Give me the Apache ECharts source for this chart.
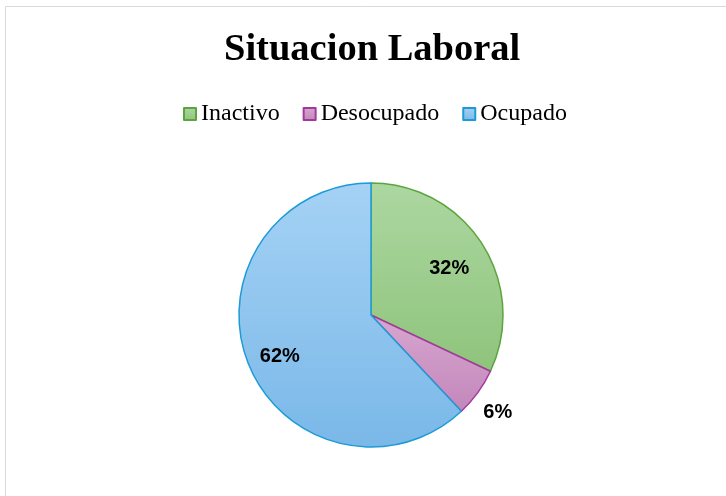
<!DOCTYPE html>
<html><head><meta charset="utf-8">
<script src="https://cdn.jsdelivr.net/npm/echarts@6/dist/echarts.min.js"></script>
<style>html,body{margin:0;padding:0;background:#fff}#c{width:726px;height:496px}</style>
</head><body><div id="c"></div>
<script>
var titleText = 'Situacion Laboral';
var categories = ['Inactivo', 'Desocupado', 'Ocupado'];
var values = [32, 6, 62];
var labelTexts = ['32%', '6%', '62%'];

var fills = [['#acd7a1', '#8fc47c'], ['#d8a6d0', '#c287ba'], ['#a5d2f5', '#7ab8e8']];
var borders = ['#5ba53c', '#a4399d', '#1c9bd6'];
var labelOffsets = [[20, -10], [71, 57], [-27, 16]];

var chart = echarts.init(document.getElementById('c'));
chart.setOption({
  animation: false,
  graphic: [{type: 'rect', shape: {x: 5.5, y: 6.5, width: 800, height: 600}, style: {fill: 'none', stroke: '#d9d9d9', lineWidth: 1}}],
  title: {text: titleText, left: 219, top: 26, textStyle: {fontFamily: 'Liberation Serif', fontWeight: 'bold', fontSize: 38.5, color: '#000'}},
  legend: {top: 97, left: 178, itemWidth: 12, itemHeight: 12, itemGap: 23, icon: 'rect',
    textStyle: {fontFamily: 'Liberation Serif', fontSize: 24, color: '#000'},
    data: categories},
  series: [{
    type: 'pie', center: [371, 315], radius: 132, startAngle: 90, clockwise: true,
    data: categories.map(function (c, i) {
      return {name: c, value: values[i],
        itemStyle: {color: new echarts.graphic.LinearGradient(0, 0, 0, 1, [{offset: 0, color: fills[i][0]}, {offset: 1, color: fills[i][1]}]),
          borderColor: borders[i], borderWidth: 1.5}};
    }),
    label: {show: true, position: 'inside', formatter: function (p) { return labelTexts[p.dataIndex]; },
      fontFamily: 'Liberation Sans', fontWeight: 'bold', fontSize: 20, color: '#000'},
    labelLine: {show: false},
    labelLayout: function (p) { var o = labelOffsets[p.dataIndex]; return {dx: o[0], dy: o[1]}; },
    emphasis: {disabled: true}
  }]
});
</script></body></html>
